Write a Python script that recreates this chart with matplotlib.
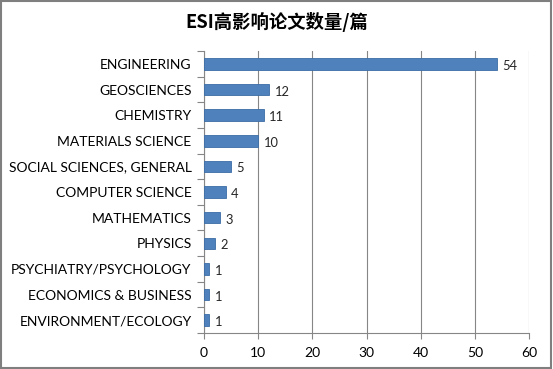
import matplotlib.pyplot as plt
from matplotlib.patches import Rectangle
from matplotlib.ticker import FixedLocator, NullFormatter
import numpy as np

plt.rcParams["font.family"] = ["Lato", "Noto Sans CJK SC", "DejaVu Sans"]

# data, top to bottom as drawn
categories = [
    "ENGINEERING", "GEOSCIENCES", "CHEMISTRY", "MATERIALS SCIENCE",
    "SOCIAL SCIENCES, GENERAL", "COMPUTER SCIENCE", "MATHEMATICS", "PHYSICS",
    "PSYCHIATRY/PSYCHOLOGY", "ECONOMICS & BUSINESS", "ENVIRONMENT/ECOLOGY",
]
counts = [54, 12, 11, 10, 5, 4, 3, 2, 1, 1, 1]
x_ticks = [0, 10, 20, 30, 40, 50, 60]

BLUE = "#4F81BD"
AXIS = "#868686"

fig = plt.figure(figsize=(5.53, 3.69), dpi=100, facecolor="white")
ax = fig.add_axes([0.369, 0.0976, 0.588, 0.764])

n = len(categories)
y = np.arange(n)[::-1]
ax.barh(y, counts, height=0.45, color=BLUE, edgecolor="#3C6DA6", linewidth=0.6, zorder=3)

for yi, v in zip(y, counts):
    ax.text(v + 1.0, yi - 0.08, str(v), va="center", ha="left", fontsize=9.3, color="#262626")

ax.set_xlim(0, 60)
ax.set_ylim(-0.5, n - 0.5)
ax.set_xticks(x_ticks)
ax.set_xticklabels([str(t) for t in x_ticks], fontsize=10)
ax.set_yticks(y)
ax.set_yticklabels(categories, fontsize=10)
ax.tick_params(axis="y", which="major", length=0, pad=9)
ax.yaxis.set_minor_locator(FixedLocator(np.arange(-0.5, n, 1.0)))
ax.yaxis.set_minor_formatter(NullFormatter())
ax.tick_params(axis="y", which="minor", length=5, color=AXIS, width=0.8)
ax.tick_params(axis="x", length=4, color=AXIS, width=0.8, pad=6)

ax.grid(True, axis="x", color=AXIS, lw=0.8)
ax.set_axisbelow(True)
for s in ("top", "right"):
    ax.spines[s].set_visible(False)
for s in ("left", "bottom"):
    ax.spines[s].set_color(AXIS)
    ax.spines[s].set_linewidth(0.8)

fig.text(0.5, 0.94, "ESI高影响论文数量/篇", ha="center", va="center", fontsize=13.2,
         fontweight="bold", family=["Noto Sans CJK SC", "DejaVu Sans"])

fig.patches.append(Rectangle((0.002, 0.003), 0.995, 0.994, transform=fig.transFigure,
                             fill=False, edgecolor="#7F7F7F", linewidth=1.5))

fig.savefig("out.png", dpi=100, facecolor="white")
